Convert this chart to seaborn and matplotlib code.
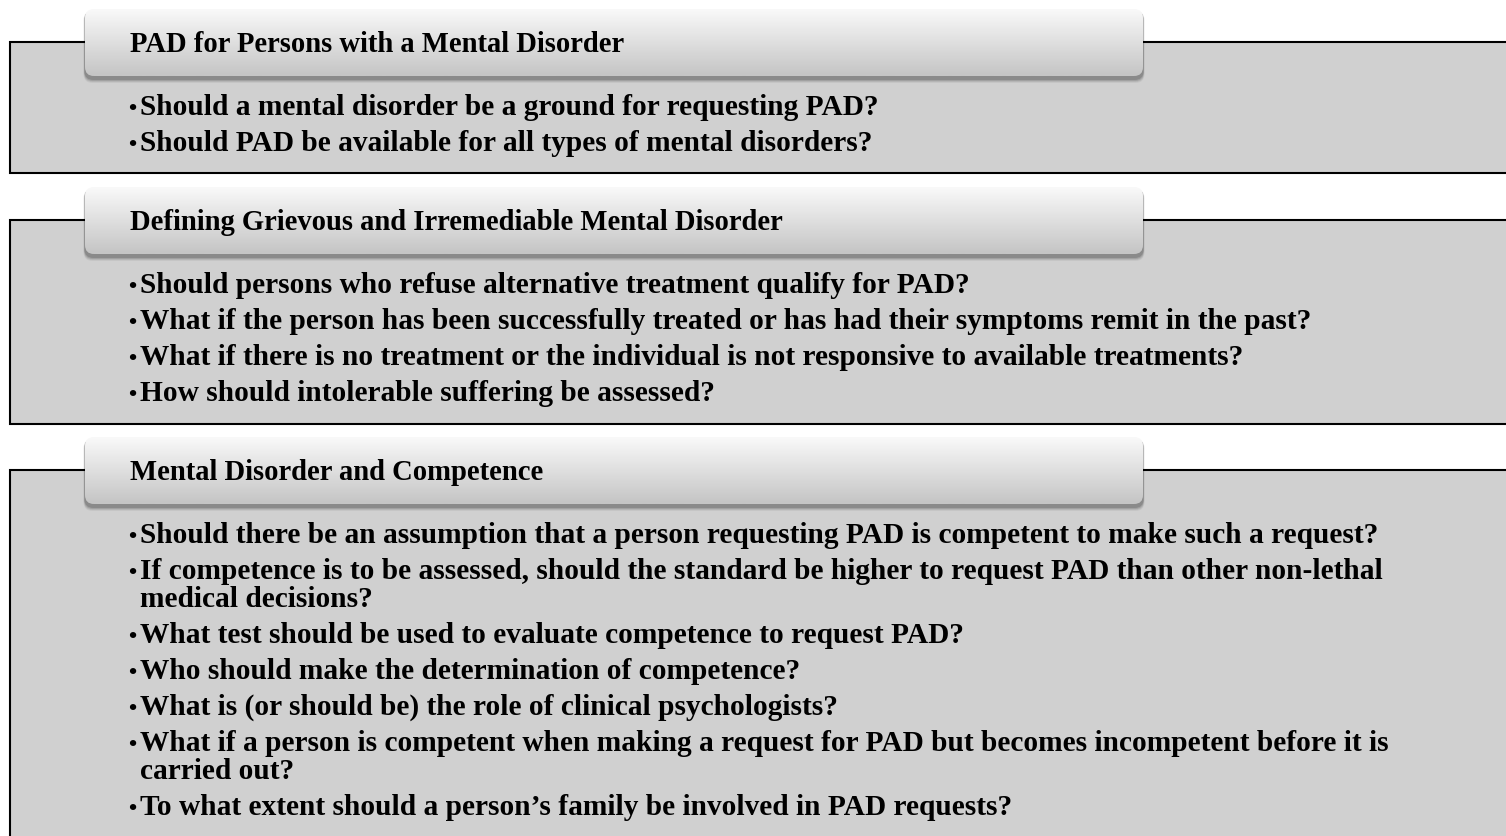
"""Three-panel question outline: PAD and mental disorder."""

import matplotlib.pyplot as plt
import numpy as np
import seaborn as sns
from matplotlib.patches import FancyBboxPatch, Rectangle

# Section titles and their bullet questions
titles = [
    "PAD for Persons with a Mental Disorder",
    "Defining Grievous and Irremediable Mental Disorder",
    "Mental Disorder and Competence",
]
bullets_1 = [
    "Should a mental disorder be a ground for requesting PAD?",
    "Should PAD be available for all types of mental disorders?",
]
bullets_2 = [
    "Should persons who refuse alternative treatment qualify for PAD?",
    "What if the person has been successfully treated or has had their symptoms remit in the past?",
    "What if there is no treatment or the individual is not responsive to available treatments?",
    "How should intolerable suffering be assessed?",
]
bullets_3 = [
    "Should there be an assumption that a person requesting PAD is competent to make such a request?",
    "If competence is to be assessed, should the standard be higher to request PAD than other non-lethal\nmedical decisions?",
    "What test should be used to evaluate competence to request PAD?",
    "Who should make the determination of competence?",
    "What is (or should be) the role of clinical psychologists?",
    "What if a person is competent when making a request for PAD but becomes incompetent before it is\ncarried out?",
    "To what extent should a person\u2019s family be involved in PAD requests?",
]
sections = list(zip(titles, [bullets_1, bullets_2, bullets_3]))

W, H = 1506, 837
panel_tops = [43, 221, 471]
panel_bottoms = [174, 425, 860]

sns.set_theme(style="white")
plt.rcParams["font.family"] = ["Liberation Serif", "DejaVu Serif"]


def draw_header(ax, x0, y0, x1, y1):
    """Rounded header box with a soft vertical gradient and drop shadow."""
    r = 9
    for k, a in zip([5, 4, 3, 2], [0.05, 0.08, 0.11, 0.14]):
        sh = FancyBboxPatch((x0 + r - k * 0.3, y0 + r + 2), x1 - x0 - 2 * r + k * 0.6,
                            y1 - y0 - 2 * r + k, boxstyle=f"round,pad={r}",
                            fc="black", ec="none", alpha=a, zorder=3)
        ax.add_patch(sh)
    box = FancyBboxPatch((x0 + r, y0 + r), x1 - x0 - 2 * r, y1 - y0 - 2 * r,
                         boxstyle=f"round,pad={r}", fc="none", ec="none", zorder=4)
    ax.add_patch(box)
    grad = np.linspace(0.975, 0.77, 64).reshape(-1, 1)
    img = ax.imshow(grad, cmap="gray", vmin=0, vmax=1, aspect="auto",
                    extent=(x0, x1, y1, y0), interpolation="bicubic", zorder=4)
    img.set_clip_path(box)


fig = plt.figure(figsize=(W / 100, H / 100), dpi=100)
ax = fig.add_axes([0, 0, 1, 1])
ax.set_xlim(0, W)
ax.set_ylim(H, 0)
ax.axis("off")

for (title, items), top, bottom in zip(sections, panel_tops, panel_bottoms):
    ax.add_patch(Rectangle((10, top), W + 20, bottom - top, fc="#d0d0d0",
                           ec="black", lw=1.5, zorder=1))
    draw_header(ax, 85, top - 33, 1143, top + 34)
    ax.text(130, top + 1, title, fontsize=20.6, fontweight="bold", color="black",
            va="center", ha="left", zorder=6)

    y = top + 72
    for item in items:
        ax.text(128, y, "\u2022", fontsize=17, fontweight="bold", color="black",
                va="baseline", ha="left", zorder=6)
        for j, line in enumerate(item.split("\n")):
            if j:
                y += 28
            ax.text(140, y, line, fontsize=21.2, fontweight="bold", color="black",
                    va="baseline", ha="left", zorder=6)
        y += 36

fig.savefig("out.png", dpi=100)
